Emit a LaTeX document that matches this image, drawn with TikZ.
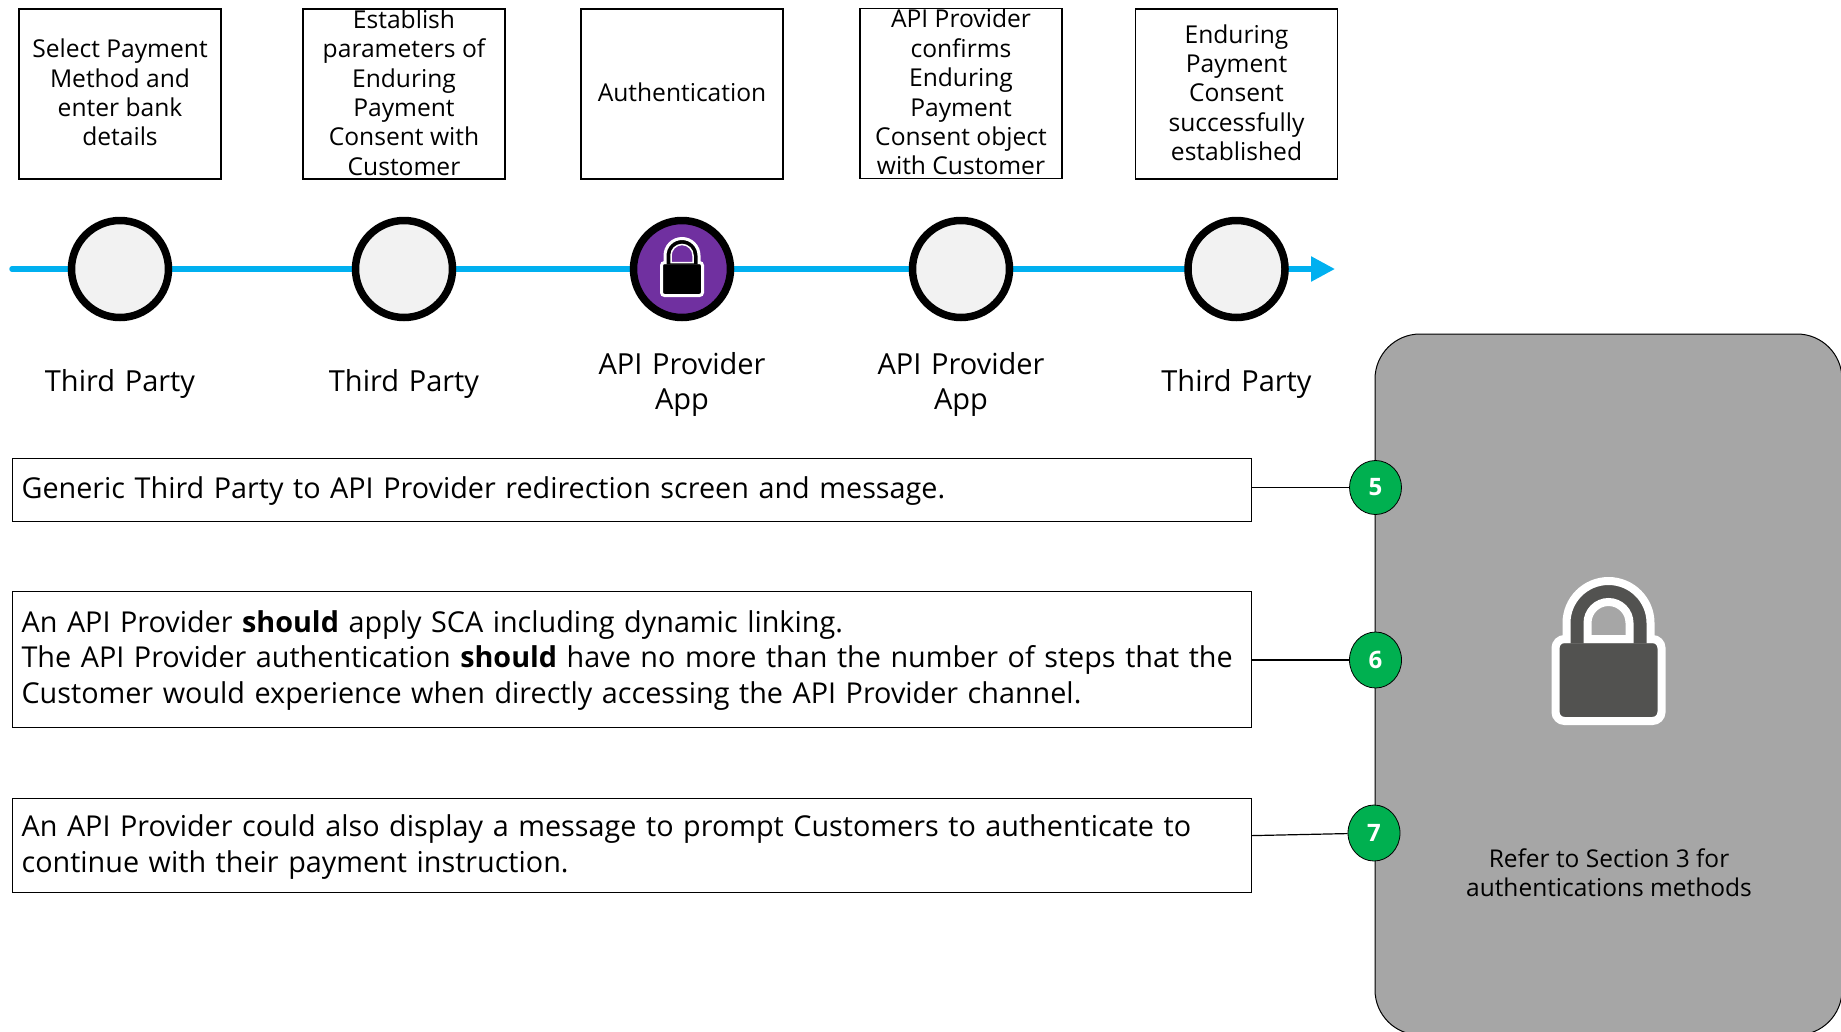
\documentclass[tikz,border=0pt]{standalone}
\usepackage{fontspec}
\setmainfont{Open Sans}
\usetikzlibrary{arrows.meta,positioning,shapes.geometric}

\definecolor{linkblue}{HTML}{00B0F0}
\definecolor{stepgray}{HTML}{F2F2F2}
\definecolor{lockpurple}{HTML}{7030A0}
\definecolor{panelgray}{HTML}{A6A6A6}
\definecolor{lockgray}{HTML}{525250}
\definecolor{badgegreen}{HTML}{00B050}

\tikzset{
	stagebox/.style={draw=black,line width=1.2pt,minimum width=202pt,minimum height=170pt,align=center,
		font=\fontsize{24.6}{29.4}\selectfont,inner sep=0pt,text depth=3pt},
	stepdot/.style={circle,draw=black,line width=7.5pt,fill=stepgray,minimum size=97pt,inner sep=0pt},
	actorlabel/.style={align=center,font=\fontsize{29}{35.2}\selectfont,text width=220pt,inner sep=0pt},
	notebox/.style={draw=black,line width=1.2pt,text width=1221pt,align=left,text height=24.5pt,
		font=\fontsize{28.75}{35.5}\selectfont,inner xsep=9pt,inner ysep=0pt,anchor=north west},
	badge/.style={ellipse,draw=black,line width=0.8pt,fill=badgegreen,text=white,minimum width=52pt,
		minimum height=54pt,inner sep=0pt,font=\fontsize{24}{24}\selectfont\bfseries},
	link/.style={line width=1.2pt,draw=black}
}

\begin{document}
\begin{tikzpicture}[x=1pt,y=-1pt]
\useasboundingbox (0,0) rectangle (1841,1031);

% ----------------------------
% Panel on the right
% ----------------------------
\draw[fill=panelgray,draw=black,line width=1pt,rounded corners=45pt] (1375,334) rectangle (1842,1035);

% ----------------------------
% Timeline
% ----------------------------
\coordinate (linestart) at (12,269);
\coordinate (lineend) at (1335,269);
\draw[linkblue,line width=5.5pt,line cap=round,-{Triangle[length=24pt,width=24pt]}] (linestart) -- (lineend);

\node[stepdot] (dotA) at (120,269) {};
\node[stepdot] (dotB) at (404,269) {};
\node[stepdot,fill=lockpurple] (dotC) at (682,269) {};
\node[stepdot] (dotD) at (961,269) {};
\node[stepdot] (dotE) at (1236.5,269) {};

% ----------------------------
% Boxes above the timeline
% ----------------------------
\node[stagebox] (boxA) at (120,94) {Select Payment\\Method and\\enter bank\\details};
\node[stagebox] (boxB) at (404,94) {Establish\\parameters of\\Enduring\\Payment\\Consent with\\Customer};
\node[stagebox] (boxC) at (682,94) {Authentication};
\node[stagebox] (boxD) at (961,93.5) {API Provider\\confirms\\Enduring\\Payment\\Consent object\\with Customer};
\node[stagebox] (boxE) at (1236.5,94) {Enduring\\Payment\\Consent\\successfully\\established};

% ----------------------------
% Labels below the timeline
% ----------------------------
\node[actorlabel] (actorA) at (120,383.5) {Third Party};
\node[actorlabel] (actorB) at (404,383.5) {Third Party};
\node[actorlabel] (actorC) at (682,384.5) {API Provider\\App};
\node[actorlabel] (actorD) at (961,384.5) {API Provider\\App};
\node[actorlabel] (actorE) at (1236.5,383.5) {Third Party};

% ----------------------------
% Notes and badges
% ----------------------------
\node[notebox,minimum height=63pt] (noteA) at (12,457.5) {Generic Third Party to API Provider redirection screen and message.};
\node[notebox,minimum height=136pt] (noteB) at (12,590.5) {An API Provider \textbf{should} apply SCA including dynamic linking.\\
	The API Provider authentication \textbf{should} have no more than the number of steps that the\\
	Customer would experience when directly accessing the API Provider channel.};
\node[notebox,minimum height=94pt] (noteC) at (12,798) {An API Provider could also display a message to prompt Customers to authenticate to\\
	continue with their payment instruction.};

\node[badge] (badgeA) at (1375.5,487.5) {5};
\node[badge,minimum height=56pt] (badgeB) at (1375.5,660) {6};
\node[badge,minimum height=56pt] (badgeC) at (1374,833) {7};

\coordinate (noteAout) at (noteA.east |- badgeA);
\coordinate (noteBout) at (noteB.east |- badgeB);
\coordinate (noteCout) at ([yshift=10pt]noteC.east);

\draw[link] (noteAout) -- (badgeA);
\draw[link] (noteBout) -- (badgeB);
\draw[link] (noteCout) -- (badgeC);

% ----------------------------
% Big lock in the panel
% ----------------------------
\begin{scope}[shift={(1608.5,681)}]
	\draw[white,line width=8pt,fill=lockgray,rounded corners=9pt] (-53,-42) rectangle (53,40);
	\filldraw[white,line width=8pt,fill=lockgray] (-42,-38) -- (-42,-58) arc[start angle=180,end angle=360,radius=42] -- (42,-38);
	\draw[white,line width=8pt,fill=panelgray] (-21,-42) -- (-21,-58) arc[start angle=180,end angle=360,radius=21] -- (21,-42) -- cycle;
\end{scope}
\node[align=center,font=\fontsize{24.5}{29.5}\selectfont] (panelnote) at (1609,872.5) {Refer to Section 3 for\\authentications methods};

% ----------------------------
% Small lock on the purple dot
% ----------------------------
\begin{scope}[shift={(682,269)}]
	\draw[white,line width=3pt,fill=black,rounded corners=3pt] (-20.5,-6.5) rectangle (20.5,26.5);
	\filldraw[white,line width=3pt,fill=black] (-17,-5) -- (-17,-13.5) arc[start angle=180,end angle=360,radius=17] -- (17,-5);
	\draw[white,line width=1.5pt,fill=lockpurple] (-11,-6.5) -- (-11,-13.5) arc[start angle=180,end angle=360,radius=11] -- (11,-6.5) -- cycle;
\end{scope}

\end{tikzpicture}
\end{document}
